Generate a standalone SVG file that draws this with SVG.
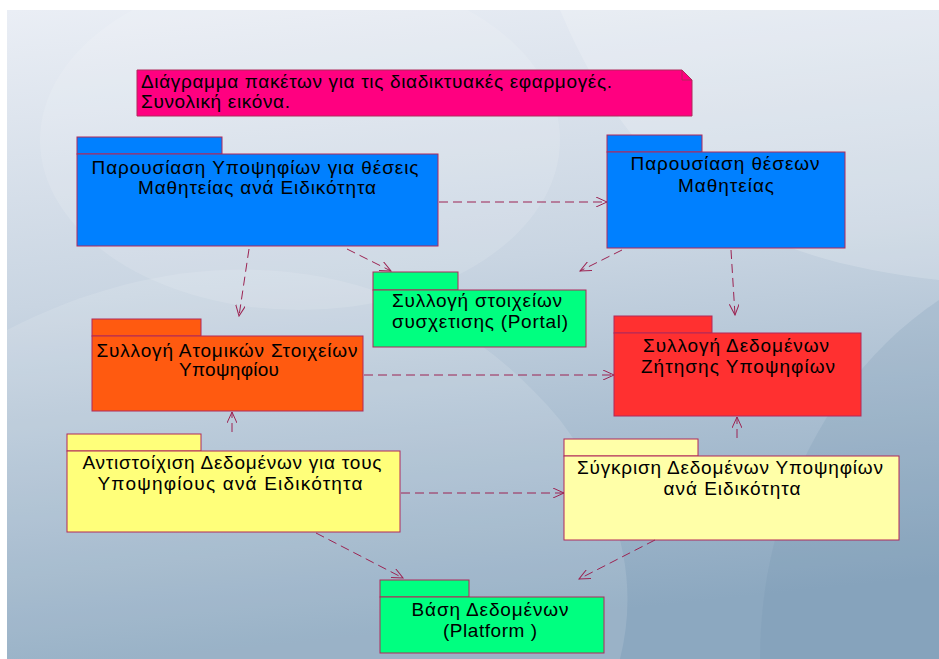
<svg xmlns="http://www.w3.org/2000/svg" width="939" height="659" viewBox="0 0 939 659">
  <defs>
    <linearGradient id="bg" x1="0" y1="0" x2="0.15" y2="1">
      <stop offset="0" stop-color="#eaeef5"/>
      <stop offset="0.45" stop-color="#c9d5e2"/>
      <stop offset="1" stop-color="#8ca8c0"/>
    </linearGradient>
    <marker id="open" viewBox="0 0 12 10" refX="11" refY="5" markerWidth="12" markerHeight="10" markerUnits="userSpaceOnUse" orient="auto">
      <path d="M0,0 L11,5 L0,10" fill="none" stroke="#9c2352" stroke-width="1"/>
    </marker>
    <clipPath id="bgclip"><rect x="7" y="10" width="932" height="649"/></clipPath>
  </defs>
  <style>
    .pkg rect { stroke: #b0285a; stroke-width: 1; }
    .lbl { font-family: "Liberation Sans", Arial, sans-serif; font-size: 19px; fill: #000; }
    .c { text-anchor: middle; }
    .dep { fill: none; stroke: #9c2352; stroke-width: 1; stroke-dasharray: 9 5; marker-end: url(#open); }
  </style>

  <!-- backdrop -->
  <rect width="939" height="659" fill="#ffffff"/>
  <g clip-path="url(#bgclip)">
    <rect x="7" y="10" width="932" height="649" fill="url(#bg)"/>
    <path d="M7,330 C200,230 420,250 560,420 C620,500 640,580 620,659 L7,659 Z" fill="#ffffff" opacity="0.12"/>
    <path d="M560,10 C640,200 760,260 939,280 L939,10 Z" fill="#ffffff" opacity="0.18"/>
    <path d="M760,659 C760,520 820,380 939,300 L939,659 Z" fill="#6f8fab" opacity="0.18"/>
    <ellipse cx="300" cy="140" rx="260" ry="170" fill="#ffffff" opacity="0.12"/>
  </g>

  <!-- note -->
  <g id="note">
    <path d="M137,70 H682 L692,80 V116 H137 Z" fill="#ff0080" stroke="#b0285a" stroke-width="1"/>
    <path d="M682,70 V80 H692" fill="none" stroke="#b0285a" stroke-width="1"/>
    <text class="lbl" x="141" y="88" textLength="471" lengthAdjust="spacing">Διάγραμμα πακέτων για τις διαδικτυακές εφαρμογές.</text>
    <text class="lbl" x="141" y="108" textLength="149" lengthAdjust="spacing">Συνολική εικόνα.</text>
  </g>

  <!-- packages -->
  <g id="pkg-candidates" class="pkg">
    <rect x="77" y="137" width="145" height="17" fill="#0080ff"/>
    <rect x="77" y="154" width="361" height="92" fill="#0080ff"/>
    <text class="lbl c" x="255" y="174" textLength="327" lengthAdjust="spacing">Παρουσίαση Υποψηφίων  για θέσεις</text>
    <text class="lbl c" x="257" y="194" textLength="238" lengthAdjust="spacing">Μαθητείας ανά Ειδικότητα</text>
  </g>

  <g id="pkg-positions" class="pkg">
    <rect x="607" y="135" width="95" height="17" fill="#0080ff"/>
    <rect x="607" y="152" width="238" height="96" fill="#0080ff"/>
    <text class="lbl c" x="725" y="170" textLength="189" lengthAdjust="spacing">Παρουσίαση θέσεων</text>
    <text class="lbl c" x="726" y="192" textLength="96" lengthAdjust="spacing">Μαθητείας</text>
  </g>

  <g id="pkg-portal" class="pkg">
    <rect x="373" y="272" width="85" height="18" fill="#00ff80"/>
    <rect x="373" y="290" width="213" height="57" fill="#00ff80"/>
    <text class="lbl" x="392" y="307" textLength="170" lengthAdjust="spacing">Συλλογή στοιχείων</text>
    <text class="lbl" x="392" y="328" textLength="176" lengthAdjust="spacing">συσχετισης (Portal)</text>
  </g>

  <g id="pkg-personal" class="pkg">
    <rect x="92" y="319" width="109" height="17" fill="#ff5a10"/>
    <rect x="92" y="336" width="271" height="75" fill="#ff5a10"/>
    <text class="lbl c" x="227" y="357" textLength="261" lengthAdjust="spacing">Συλλογή Ατομικών Στοιχείων</text>
    <text class="lbl c" x="229" y="376" textLength="100" lengthAdjust="spacing">Υποψηφίου</text>
  </g>

  <g id="pkg-demand" class="pkg">
    <rect x="614" y="316" width="98" height="17" fill="#ff3030"/>
    <rect x="614" y="333" width="247" height="83" fill="#ff3030"/>
    <text class="lbl c" x="736" y="352" textLength="186" lengthAdjust="spacing">Συλλογή Δεδομένων</text>
    <text class="lbl c" x="738" y="373" textLength="194" lengthAdjust="spacing">Ζήτησης Υποψηφίων</text>
  </g>

  <g id="pkg-matching" class="pkg">
    <rect x="67" y="434" width="134" height="17" fill="#ffff7a"/>
    <rect x="67" y="451" width="333" height="81" fill="#ffff7a"/>
    <text class="lbl c" x="232" y="469" textLength="299" lengthAdjust="spacing">Αντιστοίχιση Δεδομένων για τους</text>
    <text class="lbl c" x="230" y="490" textLength="265" lengthAdjust="spacing">Υποψηφίους ανά Ειδικότητα</text>
  </g>

  <g id="pkg-compare" class="pkg">
    <rect x="564" y="439" width="134" height="17" fill="#ffffa8"/>
    <rect x="564" y="456" width="335" height="84" fill="#ffffa8"/>
    <text class="lbl c" x="730" y="474" textLength="306" lengthAdjust="spacing">Σύγκριση Δεδομένων Υποψηφίων</text>
    <text class="lbl c" x="732" y="495" textLength="137" lengthAdjust="spacing">ανά Ειδικότητα</text>
  </g>

  <g id="pkg-database" class="pkg">
    <rect x="380" y="580" width="89" height="17" fill="#00ff80"/>
    <rect x="380" y="597" width="224" height="56" fill="#00ff80"/>
    <text class="lbl c" x="490" y="616" textLength="157" lengthAdjust="spacing">Βάση Δεδομένων</text>
    <text class="lbl c" x="490" y="637" textLength="94" lengthAdjust="spacing">(Platform )</text>
  </g>

  <!-- dependencies -->
  <g id="connectors">
    <path class="dep" d="M439,202 L607,202"/>
    <path class="dep" d="M249,249 L239,316"/>
    <path class="dep" d="M347,249 L391,271"/>
    <path class="dep" d="M622,250 L580,271"/>
    <path class="dep" d="M731,250 L735,315"/>
    <path class="dep" d="M364,375 L614,375"/>
    <path class="dep" d="M232,432 L232,412"/>
    <path class="dep" d="M737,438 L737,417"/>
    <path class="dep" d="M401,493 L564,493"/>
    <path class="dep" d="M316,533 L403,578"/>
    <path class="dep" d="M655,540 L579,579"/>
  </g>
</svg>
